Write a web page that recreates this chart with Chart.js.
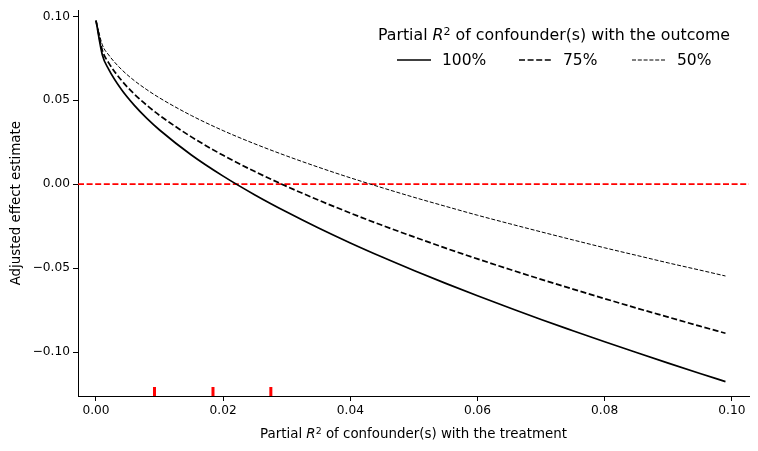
<!DOCTYPE html>
<html>
<head>
<meta charset="utf-8">
<script src="https://cdn.jsdelivr.net/npm/chart.js@4/dist/chart.umd.min.js"></script>
<style>
    html, body { margin: 0; padding: 0; background: #fff; }
    .wrap { position: relative; width: 758px; height: 451px; font-family: 'DejaVu Sans', sans-serif; color: #000; }
    canvas { position: absolute; left: 0; top: 0; }
    .legend { position: absolute; left: 354px; top: 24px; width: 400px; text-align: center; }
    .legend .title { font-size: 15.8px; line-height: 22px; }
    .legend .items { position: relative; height: 22px; margin-top: 3px; text-align: left; }
    .legend .item { position: absolute; top: 0; font-size: 15.5px; line-height: 22px; }
    .legend svg { position: absolute; top: 4px; }
    .xtitle { position: absolute; left: 78px; width: 671px; top: 426px; text-align: center; font-size: 13.4px; }
    sup { font-size: 70%; line-height: 0; vertical-align: 0.45em; }
</style>
</head>
<body>
<div class="wrap">
    <canvas id="chart" width="758" height="451"></canvas>
    <div class="legend">
        <div class="title">Partial <i>R</i><sup>2</sup> of confounder(s) with the outcome</div>
        <div class="items" id="legendItems"></div>
    </div>
    <div class="xtitle">Partial <i>R</i><sup>2</sup> of confounder(s) with the treatment</div>
</div>
<script>
// Partial R2 of confounder(s) with the treatment (x)
const xValues = [0, 0.001, 0.002, 0.004, 0.006, 0.008, 0.01, 0.015, 0.02, 0.025, 0.03, 0.035, 0.04,
    0.045, 0.05, 0.055, 0.06, 0.065, 0.07, 0.075, 0.08, 0.085, 0.09, 0.095, 0.099];

// Adjusted effect estimate for each outcome partial R2
const est100 = [0.0975, 0.0770, 0.0684, 0.0564, 0.0471, 0.0392, 0.0323, 0.0174, 0.0048, -0.0064,
    -0.0166, -0.0261, -0.0350, -0.0434, -0.0514, -0.0591, -0.0665, -0.0736, -0.0806, -0.0873,
    -0.0939, -0.1003, -0.1066, -0.1128, -0.1176];
const est75 = [0.0975, 0.0797, 0.0723, 0.0619, 0.0538, 0.0470, 0.0410, 0.0282, 0.0172, 0.0075,
    -0.0013, -0.0095, -0.0172, -0.0245, -0.0314, -0.0381, -0.0445, -0.0507, -0.0567, -0.0625,
    -0.0682, -0.0738, -0.0792, -0.0846, -0.0888];
const est50 = [0.0975, 0.0830, 0.0770, 0.0684, 0.0618, 0.0563, 0.0514, 0.0409, 0.0319, 0.0240,
    0.0168, 0.0101, 0.0038, -0.0021, -0.0078, -0.0132, -0.0185, -0.0235, -0.0284, -0.0332,
    -0.0379, -0.0424, -0.0469, -0.0512, -0.0547];

// Rug marks along the bottom (red)
const rugX = [0.0092, 0.0184, 0.0275];
const rugY = -0.1235;

const seriesLabels = ['100%', '75%', '50%'];
const xTicks = [0, 0.02, 0.04, 0.06, 0.08, 0.10];
const yTicks = [-0.10, -0.05, 0, 0.05, 0.10];

const xRange = [-0.00283, 0.1027];
const yRange = [-0.1262, 0.1036];

// ==========================================
// Legend (HTML, so the italic R² stays real text)
// ==========================================
const legendStyles = [
    { left: 43, textLeft: 88, width: 1.7, dash: '' },
    { left: 165, textLeft: 209, width: 1.7, dash: '6,2.6' },
    { left: 278, textLeft: 323, width: 1, dash: '4,1.8' }
];
const legendItems = document.getElementById('legendItems');
seriesLabels.forEach((label, i) => {
    const s = legendStyles[i];
    const svg = `<svg width="34" height="14" style="left:${s.left}px"><line x1="0" y1="7" x2="34" y2="7" stroke="#000" stroke-width="${s.width}" ${s.dash ? `stroke-dasharray="${s.dash}"` : ''}/></svg>`;
    legendItems.insertAdjacentHTML('beforeend', svg + `<span class="item" style="left:${s.textLeft}px">${label}</span>`);
});

const toPoints = (ys) => xValues.map((x, i) => ({ x: x, y: ys[i] }));
const fmt = (v) => v.toFixed(2).replace('-', '\u2212');

// curves: first segment stays straight (kink at the origin), rest smoothed
const curve = (label, ys, width, dash) => ({
    label: label, data: toPoints(ys), showLine: true,
    borderColor: '#000', borderWidth: width, borderDash: dash,
    pointRadius: 0, cubicInterpolationMode: 'monotone'
});

new Chart(document.getElementById('chart'), {
    type: 'scatter',
    data: {
        datasets: [
            curve('100%', est100, 1.7, []),
            curve('75%', est75, 1.7, [6, 2.6]),
            curve('50%', est50, 1, [4, 1.8]),
            {
                label: 'zero', data: [{ x: xRange[0], y: 0 }, { x: xRange[1], y: 0 }], showLine: true,
                borderColor: '#ff0000', borderWidth: 1.7, borderDash: [6, 2.6], pointRadius: 0
            },
            {
                label: 'rug', data: rugX.map(x => ({ x: x, y: rugY })),
                pointStyle: 'line', rotation: 90, pointRadius: 4.5,
                borderColor: '#ff0000', backgroundColor: '#ff0000', pointBorderWidth: 3
            }
        ]
    },
    options: {
        responsive: false,
        animation: false,
        layout: { padding: { left: 0, right: 9, top: 10, bottom: 0 } },
        plugins: {
            legend: { display: false },
            tooltip: { enabled: false }
        },
        scales: {
            x: {
                type: 'linear',
                min: xRange[0],
                max: xRange[1],
                afterBuildTicks: (scale) => { scale.ticks = xTicks.map(v => ({ value: v })); },
                afterFit: (scale) => { scale.height = 55; },
                grid: { drawOnChartArea: false, drawTicks: true, tickLength: 5, color: '#000' },
                border: { display: true, color: '#000', width: 1 },
                ticks: {
                    color: '#000', padding: 3, maxRotation: 0,
                    font: { family: 'DejaVu Sans', size: 12.2 },
                    callback: (v) => fmt(v)
                }
            },
            y: {
                type: 'linear',
                min: yRange[0],
                max: yRange[1],
                afterBuildTicks: (scale) => { scale.ticks = yTicks.map(v => ({ value: v })); },
                afterFit: (scale) => { scale.width = 78; },
                grid: { drawOnChartArea: false, drawTicks: true, tickLength: 5, color: '#000' },
                border: { display: true, color: '#000', width: 1 },
                title: {
                    display: true, text: 'Adjusted effect estimate', color: '#000',
                    font: { family: 'DejaVu Sans', size: 13.4 }, padding: { top: 8, bottom: 4 }
                },
                ticks: {
                    color: '#000', padding: 3,
                    font: { family: 'DejaVu Sans', size: 12.2 },
                    callback: (v) => fmt(v)
                }
            }
        }
    }
});
</script>
</body>
</html>
